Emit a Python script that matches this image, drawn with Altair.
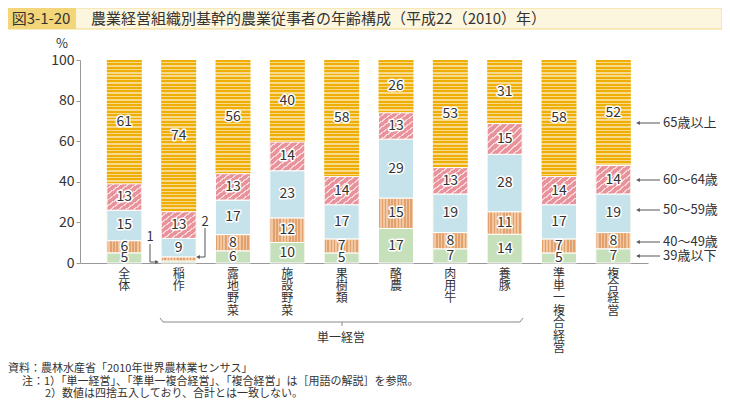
import altair as alt
import pandas as pd

# ---------------- data ----------------
categories = ["全体", "稲作", "露地野菜", "施設野菜", "果樹類", "酪農", "肉用牛", "養豚", "準単一複合経営", "複合経営"]
ages = ["39歳以下", "40～49歳", "50～59歳", "60～64歳", "65歳以上"]
v39 = [5, 1, 6, 10, 5, 17, 7, 14, 5, 7]
v40 = [6, 2, 8, 12, 7, 15, 8, 11, 7, 8]
v50 = [15, 9, 17, 23, 17, 29, 19, 28, 17, 19]
v60 = [13, 13, 13, 14, 14, 13, 13, 15, 14, 14]
v65 = [61, 74, 56, 40, 58, 26, 53, 31, 58, 52]
legend_labels = ["65歳以上", "60～64歳", "50～59歳", "40～49歳", "39歳以下"]
y_ticks = [0, 20, 40, 60, 80, 100]
title_no = "図3-1-20"
title_text = "農業経営組織別基幹的農業従事者の年齢構成（平成22（2010）年）"
group_label = "単一経営"
notes = [
    "資料：農林水産省「2010年世界農林業センサス」",
    "注：1）「単一経営」、「準単一複合経営」、「複合経営」は［用語の解説］を参照。",
    "2）数値は四捨五入しており、合計とは一致しない。",
]

rows = []
series = [v39, v40, v50, v60, v65]
for ci, cat in enumerate(categories):
    for ai, age in enumerate(ages):
        rows.append({"cat": cat, "age": age, "order": ai, "value": series[ai][ci]})
df = pd.DataFrame(rows)

# ---------------- styles ----------------
FONT = "Noto Sans CJK JP"
TXT = "#333333"


def stripes(c1, c2, n, frac1, x1, y1, x2, y2):
    stops = []
    for i in range(n):
        a = round(i / n, 5)
        b = round((i + frac1) / n, 5)
        c = round((i + 1) / n, 5)
        stops += [
            {"offset": a, "color": c1},
            {"offset": b, "color": c1},
            {"offset": b, "color": c2},
            {"offset": c, "color": c2},
        ]
    return {"gradient": "linear", "x1": x1, "y1": y1, "x2": x2, "y2": y2, "stops": stops}


fill65 = stripes("#EFAE05", "#F8DA8C", 60, 0.58, 0, 0, 0, 1)
fill40 = stripes("#E2A270", "#F2C69E", 11, 0.5, 0, 0, 1, 0)
fill60 = stripes("#E8939B", "#F8D8DA", 9, 0.72, 0, 0, 1, 1)
fill50 = "#C6E2EA"
fill39 = "#C6E0BB"

xscale = alt.Scale(domain=categories, paddingInner=0.356, paddingOuter=0.405, align=0.61)
yscale = alt.Scale(domain=[0, 100])

x_axis = alt.Axis(
    title=None,
    labelAngle=0,
    labelExpr="split(datum.value, '')",
    labelFontSize=12,
    labelLineHeight=12.4,
    labelBaseline="top",
    labelPadding=5,
    labelColor=TXT,
    labelFont=FONT,
    ticks=False,
    domainColor="#999999",
)
y_axis = alt.Axis(
    title=None,
    values=y_ticks,
    grid=False,
    domainColor="#999999",
    tickColor="#999999",
    tickSize=4,
    labelFontSize=14,
    labelPadding=2,
    labelColor=TXT,
    labelFont=FONT,
)

base = (
    alt.Chart(df)
    .transform_joinaggregate(total="sum(value)", groupby=["cat"])
    .transform_calculate(pct="datum.value / datum.total * 100")
    .transform_stack(stack="pct", groupby=["cat"], sort=[alt.SortField("order")], as_=["y0", "y1"])
    .transform_calculate(mid="(datum.y0 + datum.y1) / 2", b0="0")
)

X = alt.X("cat:N", scale=xscale, sort=categories, axis=x_axis)


def Y(field):
    return alt.Y(field, scale=yscale, axis=y_axis)


background = base.transform_filter("datum.age == '65歳以上'").mark_bar(fill=fill65).encode(
    x=X, y=Y("b0:Q"), y2="y1:Q"
)


def seg(age, fill):
    return base.transform_filter(f"datum.age == '{age}'").mark_bar(
        fill=fill, stroke="white", strokeWidth=1
    ).encode(x=X, y=Y("y0:Q"), y2="y1:Q")


segs = [seg(ages[0], fill39), seg(ages[1], fill40), seg(ages[2], fill50), seg(ages[3], fill60)]

lab_base = base.transform_filter("datum.value >= 3")
halo = lab_base.mark_text(
    font=FONT, fontSize=14, stroke="white", strokeWidth=3, strokeJoin="round", fill="white"
).encode(x=X, y=Y("mid:Q"), text="value:Q")
labels = lab_base.mark_text(font=FONT, fontSize=14, fill=TXT).encode(
    x=X, y=Y("mid:Q"), text="value:Q"
)

one = pd.DataFrame({"a": [0]})


def rule(x, x2, y, y2, color="#555555", w=1):
    return alt.Chart(one).mark_rule(color=color, strokeWidth=w).encode(
        x=alt.value(x), x2=alt.value(x2), y=alt.value(y), y2=alt.value(y2)
    )


def txt(s, x, y, size=12, align="left", color=TXT):
    return alt.Chart(one).mark_text(
        text=s, font=FONT, fontSize=size, align=align, baseline="middle", fill=color
    ).encode(x=alt.value(x), y=alt.value(y))


def arrow(x, y, shape, size=18):
    return alt.Chart(one).mark_point(
        shape=shape, filled=True, fill="#555555", size=size, opacity=1, strokeWidth=0
    ).encode(x=alt.value(x), y=alt.value(y))


deco = []
# title band
deco.append(alt.Chart(one).mark_rect(fill="#FDF6DE", stroke="#F2D98C", strokeWidth=1).encode(
    x=alt.value(-72), x2=alt.value(642), y=alt.value(-52), y2=alt.value(-31)))
deco.append(alt.Chart(one).mark_rect(fill="#F4D67A").encode(
    x=alt.value(-72), x2=alt.value(-4), y=alt.value(-52), y2=alt.value(-31)))
deco.append(txt(title_no, -39, -41, 15, "center"))
deco.append(txt(title_text, 11, -41, 15, "left"))
deco.append(txt("%", -18, -16, 13, "center"))

# legend with arrows
leg_y = [63, 120, 150, 182, 196]
for lab, ly in zip(legend_labels, leg_y):
    deco.append(rule(558, 580, ly, ly))
    deco.append(arrow(558, ly, "triangle-left"))
    deco.append(txt(lab, 583, ly, 13, "left"))

# annotations for 稲作
deco.append(txt("1", 70, 177, 13, "center"))
deco.append(rule(70, 70, 184, 202))
deco.append(rule(70, 76, 202, 202))
deco.append(arrow(77, 202, "triangle-right"))
deco.append(txt("2", 125, 162, 13, "center"))
deco.append(rule(125, 125, 168, 197))
deco.append(rule(119, 125, 197, 197))
deco.append(arrow(118, 197, "triangle-left"))

# brace
deco.append(rule(83, 440, 262, 262, "#888888"))
deco.append(rule(80, 83, 258, 262, "#888888"))
deco.append(rule(443, 440, 258, 262, "#888888"))
deco.append(rule(262, 262, 262, 266, "#888888"))
deco.append(txt(group_label, 261, 278, 12, "center"))

# notes
deco.append(txt(notes[0], -72, 309, 11, "left"))
deco.append(txt(notes[1], -58, 322, 11, "left"))
deco.append(txt(notes[2], -35, 334, 11, "left"))

chart = alt.layer(background, *segs, halo, labels, *deco).properties(
    width=568,
    height=203,
    padding={"left": 72, "top": 52, "right": 74, "bottom": 137},
    autosize=alt.AutoSizeParams(type="none"),
    background="white",
).configure_view(stroke=None)

chart.save("out.html", embed_options={"renderer": "svg", "actions": False})
